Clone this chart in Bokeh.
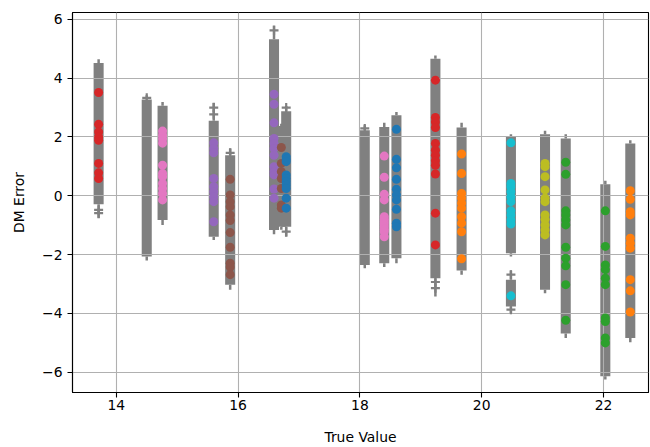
from bokeh.plotting import figure
from bokeh.models import Range1d, FixedTicker, ColumnDataSource
from bokeh.embed import file_html
from bokeh.resources import INLINE

# ---- data ----
true_values = [13.71, 14.50, 14.76, 15.60, 15.87, 16.59, 16.71, 16.79, 18.08, 18.40,
               18.60, 19.24, 19.67, 20.48, 20.48, 21.04, 21.38, 22.03, 22.44]
group_colors = ["#d62728", "#7f7f7f", "#e377c2", "#9467bd", "#8c564b", "#9467bd", "#8c564b",
                "#1f77b4", "#7f7f7f", "#e377c2", "#1f77b4", "#d62728", "#ff7f0e", "#17becf",
                "#17becf", "#bcbd22", "#2ca02c", "#2ca02c", "#ff7f0e"]
box_low = [-0.29, -2.06, -0.82, -1.39, -3.02, -1.16, -1.05, -1.05, -2.35, -2.29,
           -2.12, -2.80, -2.54, -1.95, -3.76, -3.19, -4.68, -6.13, -4.83]
box_high = [4.51, 3.27, 3.06, 2.55, 1.38, 5.32, 2.37, 2.87, 2.23, 2.34,
            2.74, 4.66, 2.32, 2.00, -2.85, 2.09, 1.95, 0.39, 1.78]
whisker_low = [-0.76, -2.20, -0.99, -1.50, -3.19, -1.31, -1.15, -1.39, -2.46, -2.42,
               -2.29, -3.42, -2.68, -2.06, -4.00, -3.31, -4.83, -6.24, -4.98]
whisker_high = [4.64, 3.42, 3.19, 3.16, 1.61, 5.79, 2.45, 3.05, 2.40, 2.48,
                2.85, 4.77, 2.48, 2.09, -2.54, 2.21, 2.09, 0.51, 1.89]
fliers = [[-0.48, -0.59], [3.33], [], [3.00, 2.77], [1.46], [5.62], [], [3.00, -1.22],
          [2.29], [], [], [-2.93, -3.14], [], [], [-2.68, -3.87], [], [], [], []]
errors = [
    [3.51, 2.43, 2.17, 2.00, 1.89, 1.10, 0.78, 0.59],
    [],
    [2.20, 2.06, 1.93, 1.79, 1.04, 0.76, 0.65, 0.42, 0.25, 0.08, -0.14],
    [1.80, 1.61, 1.46, 0.59, 0.31, 0.14, -0.03, -0.20, -0.88],
    [0.56, 0.03, -0.20, -0.37, -0.65, -0.84, -1.25, -1.75, -2.29, -2.42, -2.68],
    [3.45, 3.11, 2.48, 1.95, 1.78, 1.61, 1.38, 0.99, 0.82, 0.71, 0.23, -0.08],
    [1.64, 1.10, 0.82, 0.59, 0.25, -0.31, -0.42],
    [1.33, 1.24, 1.16, 0.71, 0.59, 0.48, 0.37, 0.25, -0.08, -0.42],
    [],
    [1.35, 0.63, 0.05, -0.14, -0.71, -0.80, -0.88, -0.96, -1.05, -1.14, -1.22, -1.39],
    [2.26, 1.24, 0.95, 0.56, 0.22, 0.03, -0.14, -0.46, -0.93, -1.05],
    [3.93, 2.66, 2.51, 2.32, 1.78, 1.55, 1.38, 1.19, 1.04, 0.74, -0.59, -1.67],
    [1.42, 0.76, 0.08, -0.08, -0.25, -0.42, -0.71, -0.93, -1.22, -2.14],
    [1.80, 0.42, 0.31, 0.14, -0.03, -0.20, -0.51, -0.65, -0.82, -0.96],
    [-3.40],
    [1.10, 0.99, 0.65, 0.20, -0.08, -0.20, -0.65, -0.80, -0.99, -1.16, -1.33],
    [1.14, 0.73, -0.51, -0.65, -0.82, -0.99, -1.75, -2.12, -2.38, -3.02, -4.23],
    [-0.51, -1.72, -2.35, -2.51, -2.80, -3.02, -4.15, -4.27, -4.83, -5.00],
    [0.17, -0.12, -0.54, -0.65, -1.44, -1.61, -1.78, -2.85, -3.23, -3.95],
]
x_ticks = [14, 16, 18, 20, 22]
y_ticks = [-6, -4, -2, 0, 2, 4, 6]

FONT = "DejaVu Sans"
FS = "13.9px"
GRAY = "#808080"

p = figure(width=650, height=447, output_backend="svg", toolbar_location=None,
           x_range=Range1d(13.281, 22.739), y_range=Range1d(-6.685, 6.23),
           min_border_left=72, min_border_right=2, min_border_top=12, min_border_bottom=54)

# boxes (drawn beneath the grid)
box_src = ColumnDataSource(dict(x=true_values, lo=box_low, hi=box_high))
p.vbar(x="x", bottom="lo", top="hi", width=0.165, source=box_src,
       fill_color=GRAY, line_color=None, level="image")

# whisker stubs
p.segment(x0=true_values, y0=box_high, x1=true_values, y1=whisker_high,
          line_color=GRAY, line_width=2.5, level="image")
p.segment(x0=true_values, y0=box_low, x1=true_values, y1=whisker_low,
          line_color=GRAY, line_width=2.5, level="image")

# fliers
fx, fy = [], []
for xv, fl in zip(true_values, fliers):
    for v in fl:
        fx.append(xv)
        fy.append(v)
p.scatter(fx, fy, marker="cross", size=9, line_color=GRAY, line_width=2.2)

# data points
px, py, pc = [], [], []
for xv, col, errs in zip(true_values, group_colors, errors):
    for v in errs:
        px.append(xv)
        py.append(v)
        pc.append(col)
p.scatter(x=px, y=py, color=pc, size=9, line_color=None)

# axes styling
p.xaxis.ticker = FixedTicker(ticks=x_ticks)
p.yaxis.ticker = FixedTicker(ticks=y_ticks)
p.yaxis.major_label_overrides = {t: (str(t).replace("-", "\u2212")) for t in y_ticks}
p.xaxis.axis_label = "True Value"
p.yaxis.axis_label = "DM Error"
for ax in (p.xaxis, p.yaxis):
    ax.axis_label_text_font = FONT
    ax.axis_label_text_font_size = FS
    ax.axis_label_text_font_style = "normal"
    ax.axis_label_text_color = "black"
    ax.major_label_text_font = FONT
    ax.major_label_text_font_size = FS
    ax.major_label_text_color = "black"
    ax.axis_line_color = "black"
    ax.axis_line_width = 1.1
    ax.major_tick_line_color = "black"
    ax.major_tick_line_width = 1.1
    ax.major_tick_out = 5
    ax.major_tick_in = 0
    ax.minor_tick_line_color = None
    ax.major_label_standoff = 5
p.xaxis.major_label_standoff = 2
p.xaxis.axis_label_standoff = 16
p.yaxis.axis_label_standoff = 12

p.grid.grid_line_color = "#b0b0b0"
p.grid.grid_line_width = 1.1
p.outline_line_color = "black"
p.outline_line_width = 1.1
p.background_fill_color = "white"
p.border_fill_color = "white"

open("out.html", "w").write(file_html(p, INLINE))
